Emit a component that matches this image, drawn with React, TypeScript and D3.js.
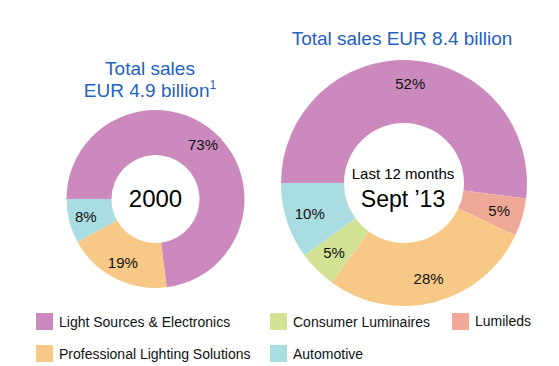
import React from 'react';
import * as d3 from 'd3';

// segments & colours
const segmentNames = [
  'Light Sources & Electronics',
  'Professional Lighting Solutions',
  'Consumer Luminaires',
  'Automotive',
  'Lumileds',
];
const segmentColors = ['#cc89bd', '#f8c886', '#d3e396', '#aadde1', '#f1a997'];

// 2000 split
const cats2000 = ['Light Sources & Electronics', 'Professional Lighting Solutions', 'Automotive'];
const vals2000 = [73, 19, 8];

// last 12 months Sept '13
const cats2013 = [
  'Light Sources & Electronics',
  'Lumileds',
  'Professional Lighting Solutions',
  'Consumer Luminaires',
  'Automotive',
];
const vals2013 = [52, 5, 28, 5, 10];

// legend columns
const legendCols = [
  ['Light Sources & Electronics', 'Professional Lighting Solutions'],
  ['Consumer Luminaires', 'Automotive'],
  ['Lumileds'],
];

const color = d3.scaleOrdinal<string, string>().domain(segmentNames).range(segmentColors);
const FONT = 'Arial, "Liberation Sans", sans-serif';
const BLUE = '#1f62c2';

const Donut = ({ cats, vals, cx, cy, rOut, rIn }) => {
  const data = cats.map((c, i) => ({ cat: c, value: vals[i] }));
  const pie = d3.pie<any>()
    .sort(null)
    .value(d => d.value)
    .startAngle(-Math.PI / 2)
    .endAngle(Math.PI * 1.5);
  const arcs = pie(data);
  const arc = d3.arc<any>().innerRadius(rIn).outerRadius(rOut);
  const lr = rIn + (rOut - rIn) * 0.62;
  const labelArc = d3.arc<any>().innerRadius(lr).outerRadius(lr);
  return (
    <g transform={`translate(${cx},${cy})`}>
      {arcs.map((a, i) => (
        <path key={i} d={arc(a) || ''} fill={color(a.data.cat)} />
      ))}
      {arcs.map((a, i) => {
        const [x, y] = labelArc.centroid(a);
        return (
          <text key={'t' + i} x={x} y={y} dy="0.35em" textAnchor="middle"
            fontSize={15} fill="#111">{a.data.value}%</text>
        );
      })}
    </g>
  );
};

export default function App() {
  const colX = [36, 270, 452];
  const rowY = [313, 345];
  return (
    <svg width={559} height={366} style={{ position: 'absolute', left: 0, top: 0, background: '#fff' }}
      fontFamily={FONT}>
      <rect width={559} height={366} fill="#fff" />

      {/* left title */}
      <text x={150} y={75} textAnchor="middle" fontSize={19} fill={BLUE}>Total sales</text>
      <text x={150} y={97} textAnchor="middle" fontSize={19} fill={BLUE}>
        EUR 4.9 billion<tspan fontSize={12} dy={-8}>1</tspan>
      </text>

      {/* right title */}
      <text x={402} y={45} textAnchor="middle" fontSize={19} fill={BLUE}>Total sales EUR 8.4 billion</text>

      <Donut cats={cats2000} vals={vals2000} cx={155.5} cy={199} rOut={89} rIn={44} />
      <Donut cats={cats2013} vals={vals2013} cx={404} cy={183} rOut={123} rIn={60} />

      <text x={155.5} y={207} textAnchor="middle" fontSize={24} fill="#000">2000</text>
      <text x={403} y={179} textAnchor="middle" fontSize={15} fill="#000">Last 12 months</text>
      <text x={403} y={207} textAnchor="middle" fontSize={23} fill="#000">Sept ’13</text>

      {/* legend */}
      {legendCols.map((col, ci) =>
        col.map((name, ri) => (
          <g key={name} transform={`translate(${colX[ci]},${rowY[ri]})`}>
            <rect width={17} height={17} fill={color(name)} />
            <text x={23} y={ci === 2 ? 13 : 14} fontSize={14} fill="#111">{name}</text>
          </g>
        ))
      )}
    </svg>
  );
}
